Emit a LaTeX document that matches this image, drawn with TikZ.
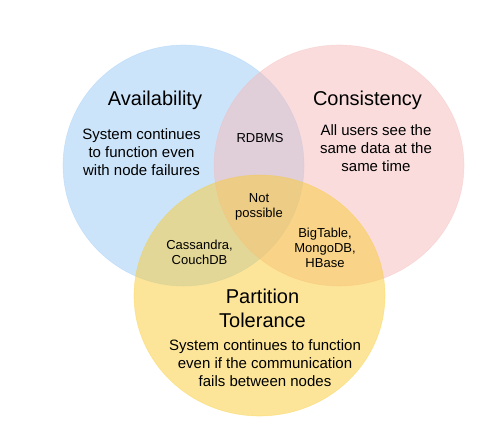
\documentclass[tikz,border=0pt]{standalone}
\usepackage{fontspec}
\setmainfont{Liberation Sans}
\usetikzlibrary{positioning}

\definecolor{availblue}{RGB}{153,201,245}
\definecolor{conspink}{RGB}{245,185,185}
\definecolor{partyellow}{RGB}{249,203,51}

\tikzset{
  setfill/.style={fill=#1, fill opacity=0.5, draw=#1, draw opacity=0.35, line width=0.6pt},
  title/.style={font=\fontsize{20}{24}\selectfont, align=center, inner sep=0pt},
  body/.style={font=\fontsize{15}{18}\selectfont, align=center, inner sep=0pt},
  small/.style={font=\fontsize{13}{15}\selectfont, align=center, inner sep=0pt}
}

\begin{document}
\begin{tikzpicture}[x=1pt,y=-1pt]
\useasboundingbox (0,0) rectangle (502,432);

% Sets
\draw[setfill=availblue] (183.5,165.5) ellipse [x radius=120.5, y radius=120.5];
\draw[setfill=conspink] (339,165.5) ellipse [x radius=125, y radius=120.5];
\draw[setfill=partyellow] (259.5,295.5) ellipse [x radius=125.5, y radius=120.5];

% Titles
\node[title] (avail) at (155,100) {Availability};
\node[title] (cons) at (367.5,100) {Consistency};
\node[title] (part) at (262.5,308) {Partition\\Tolerance};

% Descriptions
\node[body] (availtxt) at (141.5,152) {System continues\\to function even\\with node failures};
\node[body] (constxt) at (376,148) {All users see the\\same data at the\\same time};
\node[body] (parttxt) at (265,363) {System continues to function\\even if the communication\\fails between nodes};

% Overlaps
\node[small] (ac) at (260,138) {RDBMS};
\node[small] (acp) at (259,206.5) {Not\\possible};
\node[small] (ap) at (199.5,252) {Cassandra,\\CouchDB};
\node[small] (cp) at (325,248) {BigTable,\\MongoDB,\\HBase};
\end{tikzpicture}
\end{document}
